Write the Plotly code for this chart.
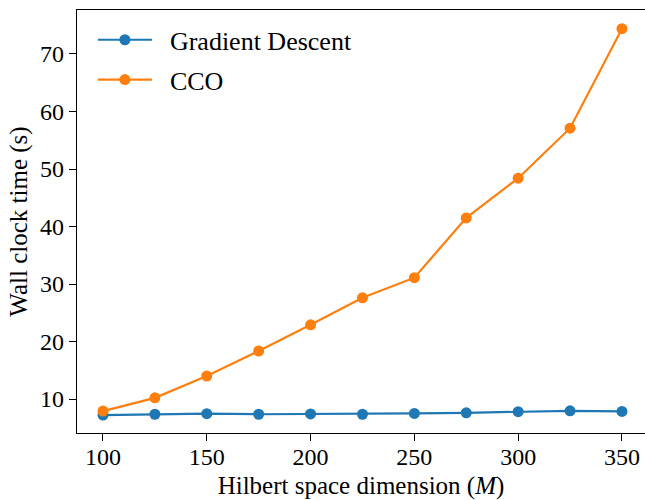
import plotly.graph_objects as go

dims = [100, 125, 150, 175, 200, 225, 250, 275, 300, 325, 350]
gd_times = [7.2, 7.35, 7.45, 7.35, 7.4, 7.35, 7.5, 7.6, 7.8, 7.95, 7.85]
cco_times = [7.9, 10.2, 14.0, 18.35, 22.9, 27.6, 31.1, 41.5, 48.4, 57.1, 74.4]
x_ticks = [100, 150, 200, 250, 300, 350]
y_ticks = [10, 20, 30, 40, 50, 60, 70]

FONT = "Liberation Serif"
GAP = "\u2002"
fig = go.Figure()
fig.add_trace(go.Scatter(x=dims, y=gd_times, mode="lines+markers", name=GAP + "Gradient Descent",
                         legendgroup="a",
                         line=dict(color="#1f77b4", width=2.2),
                         marker=dict(color="#1f77b4", size=11)))
fig.add_trace(go.Scatter(x=dims, y=cco_times, mode="lines+markers", name=GAP + "CCO",
                         legendgroup="b",
                         line=dict(color="#ff7f0e", width=2.2),
                         marker=dict(color="#ff7f0e", size=11)))

axis_common = dict(showgrid=False, zeroline=False, showline=True, linecolor="black",
                   linewidth=1.3, ticks="outside", ticklen=7, tickwidth=1.2, tickcolor="black",
                   tickfont=dict(family=FONT, size=24, color="black"))
fig.update_layout(
    width=645, height=500,
    margin=dict(l=77, r=0, t=10, b=67),
    plot_bgcolor="white", paper_bgcolor="white",
    font=dict(family=FONT, size=24, color="black"),
    xaxis=dict(range=[87.48, 361.1], tickvals=x_ticks, mirror=True, ticklabelstandoff=-5,
               title=dict(text="Hilbert space dimension (<i>M</i>)", font=dict(family=FONT, size=25), standoff=9),
               **axis_common),
    yaxis=dict(range=[4.09, 77.65], tickvals=y_ticks,
               title=dict(text="Wall clock time (s)", font=dict(family=FONT, size=25), standoff=5),
               **axis_common),
    legend=dict(x=0.028, y=0.985, xanchor="left", yanchor="top", bgcolor="rgba(0,0,0,0)",
                font=dict(family=FONT, size=26), itemwidth=54, tracegroupgap=3),
    showlegend=True,
)
fig.write_html("out.html")
